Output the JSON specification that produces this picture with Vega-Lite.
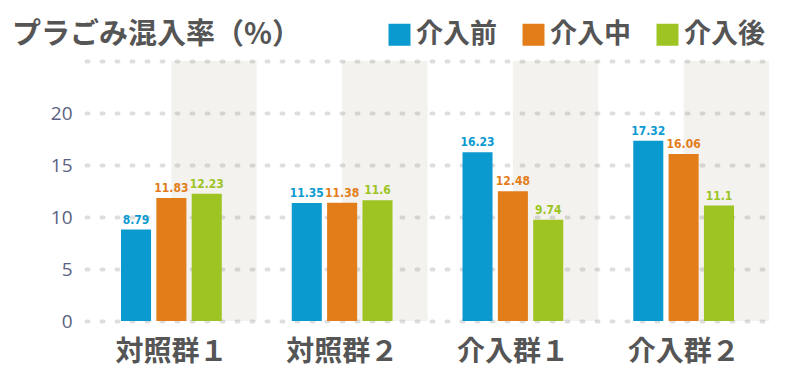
{
  "$schema": "https://vega.github.io/schema/vega-lite/v6.json",
  "width": 683,
  "height": 260,
  "autosize": {"type": "none"},
  "padding": {"left": 86, "top": 61, "right": 31, "bottom": 62},
  "background": "white",
  "title": {
    "text": "プラごみ混入率（%）",
    "anchor": "start",
    "frame": "group",
    "dx": -74,
    "dy": 43,
    "offset": 14,
    "fontSize": 29,
    "font": "Noto Sans CJK JP",
    "fontWeight": "bold",
    "color": "#555555"
  },
  "config": {"view": {"stroke": null}},
  "data": {
    "values": [
      {"group": "対照群１", "series": "介入前", "value": 8.79},
      {"group": "対照群１", "series": "介入中", "value": 11.83},
      {"group": "対照群１", "series": "介入後", "value": 12.23},
      {"group": "対照群２", "series": "介入前", "value": 11.35},
      {"group": "対照群２", "series": "介入中", "value": 11.38},
      {"group": "対照群２", "series": "介入後", "value": 11.6},
      {"group": "介入群１", "series": "介入前", "value": 16.23},
      {"group": "介入群１", "series": "介入中", "value": 12.48},
      {"group": "介入群１", "series": "介入後", "value": 9.74},
      {"group": "介入群２", "series": "介入前", "value": 17.32},
      {"group": "介入群２", "series": "介入中", "value": 16.06},
      {"group": "介入群２", "series": "介入後", "value": 11.1}
    ]
  },
  "layer": [
    {
      "data": {"values": [
        {"start": 1, "end": 2},
        {"start": 3, "end": 4},
        {"start": 5, "end": 6},
        {"start": 7, "end": 8}
      ]},
      "mark": {"type": "rect", "color": "#877d5f", "opacity": 0.1},
      "encoding": {
        "x": {"field": "start", "type": "quantitative", "scale": {"domain": [0, 8], "nice": false, "zero": false}, "axis": null},
        "x2": {"field": "end"}
      }
    },
    {
      "encoding": {
        "x": {
          "field": "group", "type": "nominal",
          "sort": ["対照群１", "対照群２", "介入群１", "介入群２"],
          "scale": {"paddingInner": 0, "paddingOuter": 0},
          "axis": {"title": null, "labelAngle": 0, "domain": false, "ticks": false, "grid": false,
                   "labelFontSize": 28, "labelFont": "Noto Sans CJK JP", "labelFontWeight": "bold",
                   "labelColor": "#555555", "labelPadding": 17}
        },
        "xOffset": {
          "field": "series", "type": "nominal",
          "sort": ["介入前", "介入中", "介入後"],
          "scale": {"paddingInner": 0.15, "paddingOuter": 0.99}
        },
        "y": {
          "field": "value", "type": "quantitative",
          "scale": {"domain": [0, 25], "nice": false},
          "axis": {"title": null, "values": [0, 5, 10, 15, 20, 25],
                   "labelExpr": "datum.value == 25 ? '' : datum.label",
                   "domain": false, "ticks": false, "grid": true,
                   "gridDash": [2, 13], "gridCap": "round", "gridWidth": 4, "gridColor": "#dedede",
                   "labelFontSize": 19, "labelColor": "#5b6182", "labelPadding": 14, "labelFont": "Open Sans"}
        },
        "color": {
          "field": "series", "type": "nominal",
          "scale": {"domain": ["介入前", "介入中", "介入後"], "range": ["#0a9ad0", "#e27d1a", "#9dc423"]},
          "legend": {"orient": "none", "legendX": 300, "legendY": -40, "direction": "horizontal",
                     "title": null, "symbolType": "square", "symbolSize": 484, "symbolStrokeWidth": 0,
                     "symbolOpacity": 1,
                     "labelFontSize": 27, "labelFont": "Noto Sans CJK JP", "labelFontWeight": "bold",
                     "labelColor": "#555555", "columnPadding": 23, "labelOffset": 3}
        }
      },
      "layer": [
        {"mark": {"type": "bar"}},
        {
          "mark": {"type": "text", "baseline": "bottom", "dy": -3, "font": "DejaVu Sans Condensed, DejaVu Sans", "fontWeight": "bold", "fontSize": 12},
          "encoding": {"text": {"field": "value", "type": "nominal"}}
        }
      ]
    }
  ],
  "resolve": {"scale": {"x": "independent"}}
}
